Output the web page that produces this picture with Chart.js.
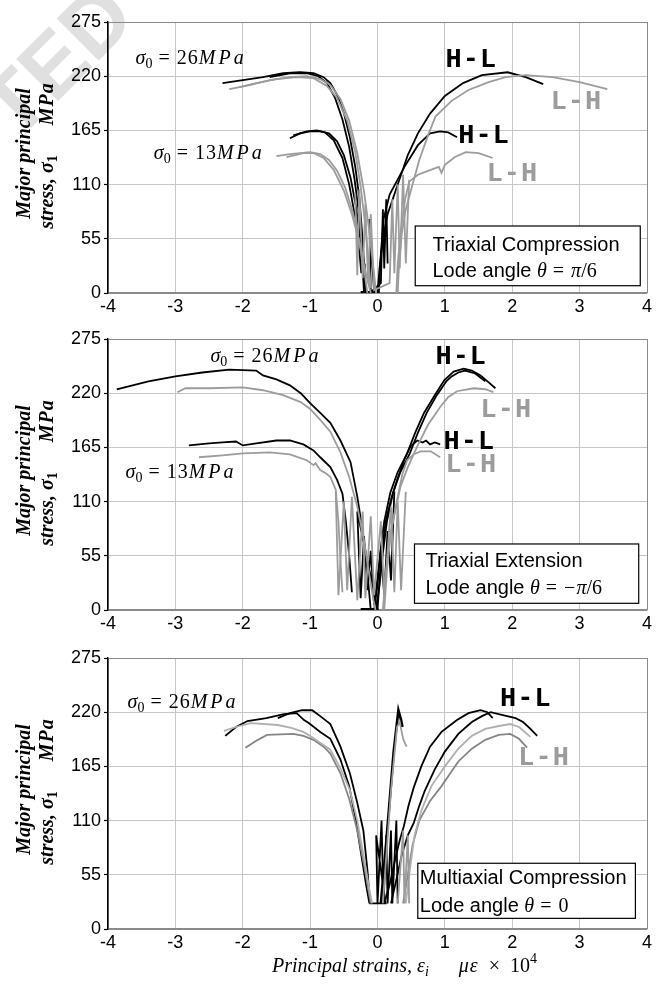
<!DOCTYPE html>
<html>
<head>
<meta charset="utf-8">
<script src="https://cdn.jsdelivr.net/npm/chart.js@4.4.0/dist/chart.umd.min.js"></script>
<style>
    html, body { margin: 0; padding: 0; background: #fff; }
    body { width: 659px; height: 989px; position: relative; overflow: hidden; }
    .panel { position: absolute; left: 0; }
    .stamp {
        position: absolute; left: -325px; top: -29px; width: 440px; text-align: right;
        font: bold 86px "Liberation Sans", sans-serif; line-height: 86px; color: #e0e0e0;
        transform-origin: 100% 73px; transform: rotate(-45deg); white-space: nowrap;
    }
</style>
</head>
<body>
<div class="stamp">ACCEPTED</div>
<div class="panel" style="top:0"><canvas id="tcChart" width="659" height="320"></canvas></div>
<div class="panel" style="top:320px"><canvas id="teChart" width="659" height="320"></canvas></div>
<div class="panel" style="top:640px"><canvas id="mcChart" width="659" height="349"></canvas></div>
<script>
// Axis ticks
const xTicks = [-4, -3, -2, -1, 0, 1, 2, 3, 4];
const yTicks = [0, 55, 110, 165, 220, 275];

// ---- Triaxial compression (theta = pi/6) ----
// lateral strain branches (negative x)
const tcBlack26LatA = [[-2.3,213],[-2.0,216],[-1.7,219],[-1.4,223],[-1.15,224],[-0.95,223],[-0.8,219],[-0.7,213],[-0.6,201],[-0.5,183],[-0.41,158],[-0.33,128],[-0.27,97],[-0.23,62],[-0.2,30],[-0.19,0]];
const tcBlack26LatB = [[-1.6,219],[-1.3,223],[-1.05,223],[-0.88,220],[-0.75,213],[-0.63,198],[-0.52,176],[-0.42,148],[-0.34,115],[-0.27,78],[-0.22,40],[-0.17,0]];
const tcGray26LatA = [[-2.2,207],[-1.9,211],[-1.6,216],[-1.3,219],[-1.05,220],[-0.85,217],[-0.7,211],[-0.55,197],[-0.42,175],[-0.3,142],[-0.2,103],[-0.12,62],[-0.06,25],[-0.02,0]];
const tcGray26LatB = [[-2.05,209],[-1.8,213],[-1.5,217],[-1.2,219],[-0.95,218],[-0.75,210],[-0.6,198],[-0.45,175],[-0.33,143],[-0.25,108],[-0.18,68],[-0.13,30],[-0.1,5]];
const tcBlack13LatA = [[-1.3,157],[-1.15,162],[-1.0,164],[-0.85,164],[-0.72,162],[-0.6,154],[-0.5,140],[-0.4,117],[-0.32,88],[-0.26,57],[-0.22,25],[-0.2,0]];
const tcBlack13LatB = [[-1.25,160],[-1.05,164],[-0.9,165],[-0.78,163],[-0.65,155],[-0.52,137],[-0.42,110],[-0.34,80],[-0.28,50],[-0.24,20]];
const tcGray13LatA = [[-1.5,139],[-1.3,141],[-1.15,142],[-1.0,143],[-0.85,141],[-0.72,135],[-0.6,124],[-0.48,107],[-0.37,83],[-0.28,55],[-0.2,25],[-0.15,0]];
const tcGray13LatB = [[-1.35,138],[-1.1,142],[-0.95,142],[-0.8,137],[-0.65,125],[-0.5,104],[-0.38,80],[-0.27,52],[-0.18,22],[-0.1,0]];
// axial strain branches (positive x)
const tcBlack26Ax = [[0.0,0],[0.03,25],[0.08,55],[0.15,80],[0.29,108],[0.45,140],[0.6,162],[0.78,182],[1.0,200],[1.27,213],[1.55,221],[1.93,224],[2.2,219],[2.46,212]];
const tcBlack13Ax = [[0.02,0],[0.05,40],[0.09,75],[0.18,100],[0.4,128],[0.6,150],[0.78,162],[0.93,164],[1.05,163],[1.18,158]];
const tcGray26Ax = [[0.3,0],[0.32,30],[0.36,60],[0.42,85],[0.52,110],[0.62,135],[0.75,160],[0.86,179],[1.1,195],[1.35,206],[1.65,214],[1.9,219],[2.2,221],[2.6,219],[3.0,214],[3.41,207]];
const tcGray13Ax = [[0.28,0],[0.3,30],[0.35,65],[0.41,95],[0.47,113],[0.6,120],[0.75,124],[0.91,128],[0.95,122],[1.0,130],[1.15,138],[1.31,143],[1.5,142],[1.71,137]];
// unload / reload cycles near the origin
const tcGrayLoops = [[-0.33,100],[-0.3,18],[-0.27,105],[-0.22,15],[-0.18,90],[-0.14,10],[-0.1,80],[-0.05,3],[0.18,10],[0.22,95],[0.25,20],[0.3,110],[0.33,25],[0.38,120],[0.42,30],[0.47,115]];
const tcBlackLoops = [[-0.25,1],[-0.05,1],[-0.12,75],[-0.1,1],[0.05,10],[0.08,85],[0.1,25],[0.13,95],[0.15,30]];

// ---- Triaxial extension (theta = -pi/6) ----
const teBlack26Lat = [[-3.87,224],[-3.4,232],[-3.0,237],[-2.6,241],[-2.2,244],[-1.8,243],[-1.7,238],[-1.5,234],[-1.3,228],[-1.14,220],[-1.0,210],[-0.85,200],[-0.7,190],[-0.55,172],[-0.4,150],[-0.3,115],[-0.22,80],[-0.16,45],[-0.12,15],[-0.1,0]];
const teGray26Lat = [[-2.97,221],[-2.85,225],[-2.5,225],[-2.0,226],[-1.7,223],[-1.4,218],[-1.14,211],[-1.0,204],[-0.85,193],[-0.7,181],[-0.55,160],[-0.42,135],[-0.3,105],[-0.2,70],[-0.12,35],[-0.06,10],[-0.03,0]];
const teBlack13Lat = [[-2.8,167],[-2.5,169],[-2.3,170],[-2.1,171],[-2.0,167],[-1.8,169],[-1.5,172],[-1.3,172],[-1.1,168],[-0.95,162],[-0.85,155],[-0.7,145],[-0.6,132],[-0.52,118],[-0.47,90],[-0.42,55],[-0.38,18]];
const teGray13Lat = [[-2.65,155],[-2.3,157],[-2.0,159],[-1.6,160],[-1.3,158],[-1.05,152],[-0.95,147],[-0.92,149],[-0.85,142],[-0.75,138],[-0.7,135],[-0.62,122],[-0.58,90],[-0.55,50],[-0.52,18]];
const teBlack26AxA = [[-0.05,0],[0.0,25],[0.04,58],[0.1,90],[0.19,119],[0.3,140],[0.44,159],[0.56,180],[0.69,200],[0.85,218],[0.99,233],[1.13,242],[1.28,245],[1.4,243],[1.53,238],[1.65,231],[1.75,225]];
const teBlack26AxB = [[-0.02,0],[0.03,25],[0.08,58],[0.14,90],[0.23,119],[0.34,140],[0.48,159],[0.6,180],[0.73,200],[0.88,218],[1.02,232],[1.1,237],[1.2,241],[1.3,243],[1.45,240],[1.6,232]];
const teGray26Ax = [[0.08,0],[0.12,35],[0.2,80],[0.34,125],[0.45,145],[0.59,166],[0.75,188],[0.93,206],[1.05,216],[1.18,222],[1.43,225],[1.6,224],[1.72,221]];
const teBlack13Ax = [[0.0,0],[0.05,50],[0.12,90],[0.2,112],[0.29,132],[0.4,153],[0.49,166],[0.59,172],[0.67,170],[0.72,172],[0.78,168],[0.85,170],[0.93,168]];
const teGray13Ax = [[0.1,0],[0.14,40],[0.2,80],[0.3,115],[0.37,138],[0.44,152],[0.54,158],[0.64,161],[0.79,161],[0.93,155]];
const teGrayLoops = [[-0.62,120],[-0.58,15],[-0.5,110],[-0.45,20],[-0.38,115],[-0.3,10],[-0.22,100],[-0.18,12],[-0.1,95],[-0.05,15],[0.05,90],[0.1,15],[0.2,105],[0.25,18],[0.3,110],[0.35,20],[0.42,120]];
const teBlackLoops = [[-0.25,1],[0.0,1],[-0.3,100],[-0.25,12],[-0.2,75],[-0.15,20],[-0.1,60],[-0.05,5],[0.05,60],[0.1,15],[0.15,80],[0.2,30],[0.25,120]];

// ---- Multiaxial compression (theta = 0) ----
const mcBlackLatA = [[-2.26,196],[-2.1,205],[-1.93,211],[-1.65,214],[-1.39,218],[-1.2,219],[-1.09,212],[-1.02,209],[-0.85,200],[-0.7,193],[-0.55,172],[-0.42,145],[-0.32,110],[-0.24,75],[-0.17,45],[-0.12,26]];
const mcBlackLatB = [[-1.48,214],[-1.3,219],[-1.12,222],[-0.97,222],[-0.85,216],[-0.7,208],[-0.55,185],[-0.41,158],[-0.3,128],[-0.21,100],[-0.15,60],[-0.11,26]];
const mcLightLat = [[-2.28,201],[-2.05,206],[-1.88,209],[-1.48,207],[-1.28,204],[-1.1,200],[-0.98,195],[-0.85,189],[-0.7,182],[-0.55,163],[-0.41,141],[-0.3,110],[-0.2,72],[-0.12,40],[-0.08,26]];
const mcMidLat = [[-1.96,184],[-1.8,191],[-1.64,197],[-1.25,198],[-1.1,196],[-0.95,192],[-0.8,185],[-0.7,178],[-0.55,158],[-0.42,132],[-0.3,100],[-0.2,65],[-0.1,26]];
const mcBlackSpike = [[0.05,26],[0.12,80],[0.18,130],[0.24,180],[0.31,222],[0.35,212],[0.37,205]];
const mcGraySpike = [[0.08,26],[0.2,140],[0.29,205],[0.33,210],[0.38,193],[0.43,185]];
const mcBlackAxA = [[0.1,26],[0.18,45],[0.26,70],[0.33,90],[0.39,104],[0.46,125],[0.54,144],[0.65,165],[0.78,185],[0.95,200],[1.18,212],[1.35,219],[1.53,222],[1.63,220],[1.71,214]];
const mcBlackAxB = [[0.2,26],[0.28,50],[0.36,75],[0.45,95],[0.54,108],[0.62,125],[0.7,140],[0.85,162],[1.0,180],[1.2,198],[1.4,210],[1.55,216],[1.68,220],[1.86,217],[2.05,214],[2.16,210],[2.27,203],[2.37,196]];
const mcLightAx = [[0.42,26],[0.48,60],[0.55,95],[0.65,120],[0.8,145],[1.0,165],[1.2,183],[1.4,196],[1.6,203],[1.8,206],[1.97,208],[2.1,205],[2.27,195]];
const mcMidAx = [[0.38,26],[0.45,55],[0.52,85],[0.62,110],[0.78,130],[0.95,145],[1.05,155],[1.2,170],[1.4,183],[1.6,192],[1.8,197],[1.97,198],[2.1,193],[2.22,184]];
const mcBlackLoops = [[-0.12,26],[0.12,26],[-0.02,95],[0.0,26],[0.06,110],[0.09,26],[0.13,95],[0.15,26],[0.2,100],[0.22,26],[0.28,110],[0.3,26]];
const mcGrayLoops = [[0.3,26],[0.38,100],[0.4,26],[0.45,95],[0.47,26]];

const BLACK = '#000';
const GRAY = '#9c9c9c';
const LIGHT = '#b0b0b0';
const MID = '#858585';
const GRID = '#c6c6c6';
const FRAME = '#8a8a8a';
const SERIF = '"Liberation Serif", serif';
const SANS = '"Liberation Sans", sans-serif';
const MONO = '"Liberation Mono", monospace';
const EN = '\u2002';

// Build one line dataset from [x, y] pairs
function line(points, color, width) {
    return {
        data: points.map(([x, y]) => ({ x, y })),
        borderColor: color,
        borderWidth: width || 1.8,
        showLine: true,
        pointRadius: 0,
        fill: false,
        tension: 0
    };
}

// Draw a run of text pieces (italic / sub / sup) one after another
function drawRich(ctx, x, y, parts, size, align) {
    const setFont = p => {
        const s = (p.sub || p.sup) ? size * 0.7 : size;
        ctx.font = `${p.i ? 'italic ' : ''}${p.b ? 'bold ' : ''}${s}px ${p.f || SERIF}`;
        ctx.letterSpacing = (p.ls || 0) + 'px';
    };
    let total = 0;
    parts.forEach(p => { setFont(p); total += ctx.measureText(p.t).width; });
    let cx = align === 'center' ? x - total / 2 : x;
    ctx.textAlign = 'left';
    ctx.textBaseline = 'middle';
    parts.forEach(p => {
        setFont(p);
        const dy = p.sub ? size * 0.28 : p.sup ? -size * 0.38 : 0;
        ctx.fillText(p.t, cx, y + dy);
        cx += ctx.measureText(p.t).width;
    });
    ctx.letterSpacing = '0px';
}

// Plugin that writes labels, boxes and the y title on a panel
function notesPlugin(notes) {
    return {
        id: 'notes',
        afterDraw(chart) {
            const { ctx, chartArea } = chart;
            const sx = chart.scales.x, sy = chart.scales.y;
            ctx.save();
            notes.forEach(n => {
                if (n.box) {
                    const l = sx.getPixelForValue(n.box[0]), r = sx.getPixelForValue(n.box[1]);
                    const t = sy.getPixelForValue(n.box[2]), b = sy.getPixelForValue(n.box[3]);
                    ctx.fillStyle = '#fff';
                    ctx.fillRect(l, t, r - l, b - t);
                    ctx.strokeStyle = '#000';
                    ctx.lineWidth = 1.2;
                    ctx.strokeRect(l, t, r - l, b - t);
                    return;
                }
                ctx.fillStyle = n.color || '#000';
                drawRich(ctx, sx.getPixelForValue(n.x), sy.getPixelForValue(n.y), n.parts, n.size);
            });
            // y axis title, two rotated lines
            const cy = (chartArea.top + chartArea.bottom) / 2;
            ctx.fillStyle = '#000';
            ctx.translate(0, cy);
            ctx.rotate(-Math.PI / 2);
            drawRich(ctx, 4, 25, [{ t: 'Major principal', i: 1, b: 1 }], 20, 'center');
            drawRich(ctx, 2, 48, [{ t: 'stress, ', i: 1, b: 1 }, { t: 'σ', i: 1, b: 1 }, { t: '1', sub: 1, b: 1 }, { t: '     MPa', i: 1, b: 1, ls: 1 }], 20, 'center');
            ctx.restore();
        }
    };
}

function sigmaLabel(x, y, value) {
    return { x, y, size: 20, parts: [{ t: 'σ', i: 1 }, { t: '0', sub: 1 }, { t: ' = ' + value, ls: 1 }, { t: 'MPa', i: 1, ls: 3 }] };
}

function tag(x, y, text, color) {
    return { x, y, size: 27, color, parts: [{ t: text, b: 1, f: MONO, ls: 1 }] };
}

function boxLine(x, y, head, tail) {
    return { x, y, size: 20, parts: [{ t: head, f: SANS }].concat(tail || []) };
}

const lode = (sign, withPi) => [{ t: 'θ', i: 1 }, { t: ' = ' + sign, ls: 1 }].concat(withPi ? [{ t: 'π', i: 1 }, { t: '/6' }] : []);

// Create one stacked panel
function makePanel(id, series, pad, notes, extraPlugins) {
    const canvas = document.getElementById(id);
    const edge = (min, max) => c => (c.tick && (c.tick.value === min || c.tick.value === max)) ? FRAME : GRID;
    return new Chart(canvas.getContext('2d'), {
        type: 'scatter',
        data: { datasets: series.map(s => line(s[0], s[1], s[2])) },
        options: {
            responsive: false,
            animation: false,
            layout: { padding: { top: pad.top, right: 12, bottom: pad.bottom, left: 0 } },
            plugins: { legend: { display: false }, tooltip: { enabled: false } },
            scales: {
                x: {
                    type: 'linear', min: xTicks[0], max: xTicks[xTicks.length - 1],
                    afterFit: s => { s.height = pad.axis; },
                    afterBuildTicks: s => { s.ticks = xTicks.map(v => ({ value: v })); },
                    ticks: { color: '#000', font: { family: SANS, size: 18 }, padding: 3, maxRotation: 0, autoSkip: false },
                    grid: { color: edge(-4, 4), lineWidth: 1, drawTicks: false },
                    border: { color: FRAME, width: 1.2 }
                },
                y: {
                    type: 'linear', min: yTicks[0], max: yTicks[yTicks.length - 1],
                    afterFit: s => { s.width = 108; },
                    afterBuildTicks: s => { s.ticks = yTicks.map(v => ({ value: v })); },
                    ticks: { color: '#000', font: { family: SANS, size: 18 }, padding: 3, autoSkip: false },
                    grid: { color: edge(0, 275), lineWidth: 1, drawTicks: true, tickLength: 4, tickColor: '#000', tickWidth: 1.2 },
                    border: { color: '#000', width: 1.4 }
                }
            }
        },
        plugins: [notesPlugin(notes)].concat(extraPlugins || [])
    });
}

// Triaxial compression
makePanel('tcChart', [
    [tcGrayLoops, GRAY], [tcGray26LatA, GRAY], [tcGray26LatB, GRAY], [tcGray13LatA, GRAY], [tcGray13LatB, GRAY],
    [tcGray26Ax, GRAY], [tcGray13Ax, GRAY],
    [tcBlackLoops, BLACK], [tcBlack26LatA, BLACK], [tcBlack26LatB, BLACK], [tcBlack13LatA, BLACK], [tcBlack13LatB, BLACK],
    [tcBlack26Ax, BLACK], [tcBlack13Ax, BLACK]
], { top: 22, bottom: 0, axis: 27 }, [
    sigmaLabel(-3.59, 238, '26'),
    sigmaLabel(-3.32, 141, '13'),
    tag(1.01, 236, 'H-L', BLACK),
    tag(1.2, 159, 'H-L', BLACK),
    tag(2.57, 194, 'L-H', GRAY),
    tag(1.62, 121, 'L-H', GRAY),
    { box: [0.56, 3.9, 68, 7.4] },
    boxLine(0.816, 48.7, 'Triaxial Compression'),
    boxLine(0.816, 21.6, 'Lode angle ', lode('', true))
]);

// Triaxial extension
makePanel('teChart', [
    [teGrayLoops, GRAY], [teGray26Lat, GRAY], [teGray13Lat, GRAY], [teGray26Ax, GRAY], [teGray13Ax, GRAY],
    [teBlackLoops, BLACK], [teBlack26Lat, BLACK], [teBlack13Lat, BLACK], [teBlack26AxA, BLACK], [teBlack26AxB, BLACK], [teBlack13Ax, BLACK]
], { top: 19, bottom: 0, axis: 30 }, [
    sigmaLabel(-2.48, 257, '26'),
    sigmaLabel(-3.74, 139, '13'),
    tag(0.86, 257, 'H-L', BLACK),
    tag(0.98, 170.5, 'H-L', BLACK),
    tag(1.53, 203, 'L-H', GRAY),
    tag(1.01, 147, 'L-H', GRAY),
    { box: [0.549, 3.877, 67, 6.8] },
    boxLine(0.712, 49, 'Triaxial Extension'),
    boxLine(0.712, 22, 'Lode angle ', lode('−', true))
]);

// Multiaxial compression, with the x axis title underneath
const xTitle = {
    id: 'xTitle',
    afterDraw(chart) {
        const { ctx } = chart;
        ctx.save();
        ctx.fillStyle = '#000';
        drawRich(ctx, 272, 327, [
            { t: 'Principal strains, ', i: 1 }, { t: 'ε', i: 1 }, { t: 'i', i: 1, sub: 1 },
            { t: '\u2003\u2002' }, { t: 'με', i: 1, ls: 1 }, { t: EN + '×' + EN + '10' }, { t: '4', sup: 1 }
        ], 20);
        ctx.restore();
    }
};
makePanel('mcChart', [
    [mcGrayLoops, GRAY], [mcLightLat, LIGHT], [mcMidLat, MID], [mcLightAx, LIGHT], [mcMidAx, MID], [mcGraySpike, GRAY],
    [mcBlackLoops, BLACK], [mcBlackLatA, BLACK], [mcBlackLatB, BLACK], [mcBlackAxA, BLACK], [mcBlackAxB, BLACK], [mcBlackSpike, BLACK, 2.6]
], { top: 18, bottom: 30, axis: 30 }, [
    sigmaLabel(-3.71, 230, '26'),
    tag(1.82, 233, 'H-L', BLACK),
    tag(2.09, 173.5, 'L-H', GRAY),
    { box: [0.598, 3.828, 66.7, 10.8] },
    boxLine(0.628, 51.4, 'Multiaxial Compression'),
    boxLine(0.628, 22.6, 'Lode angle ', lode('0', false))
], [xTitle]);
</script>
</body>
</html>
